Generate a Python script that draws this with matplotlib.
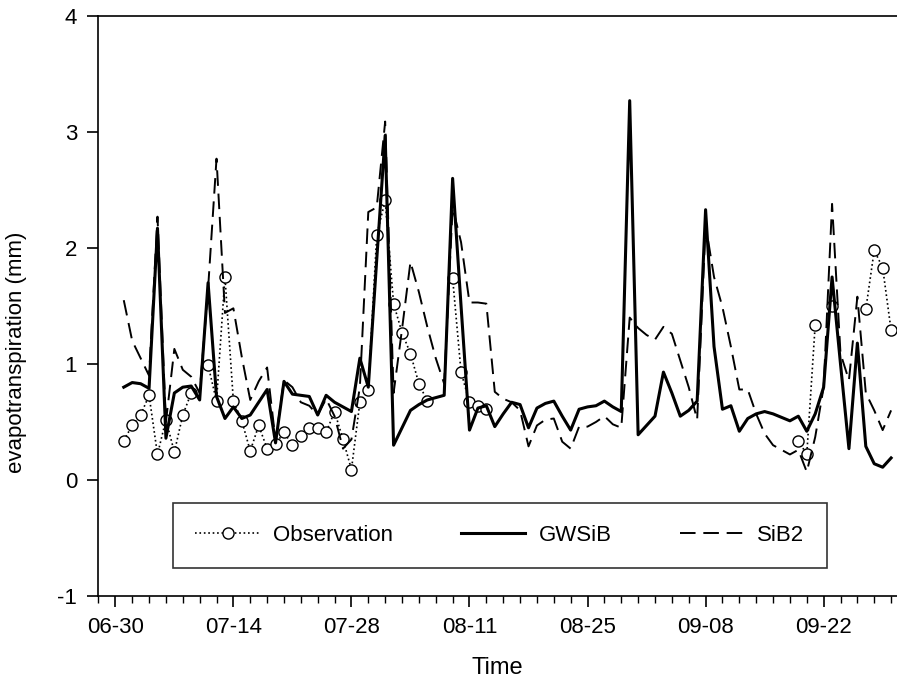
import numpy as np
import pandas as pd
import matplotlib
matplotlib.use("Agg")
import matplotlib.pyplot as plt
import matplotlib.dates as mdates

plt.rcParams['font.family'] = ['Liberation Sans', 'DejaVu Sans']
plt.rcParams['axes.unicode_minus'] = False

# daily values, 07-01 to 09-30
dates = pd.date_range('2000-07-01', periods=92, freq='D')
nan = np.nan

obs = [0.34, 0.47, 0.56, 0.73, 0.22, 0.52, 0.24, 0.56, 0.75, nan,
       0.99, 0.68, 1.75, 0.68, 0.51, 0.25, 0.47, 0.27, 0.31, 0.41,
       0.30, 0.38, 0.45, 0.45, 0.41, 0.59, 0.35, 0.09, 0.67, 0.78,
       2.11, 2.41, 1.52, 1.27, 1.09, 0.83, 0.68, nan, nan, 1.74,
       0.93, 0.67, 0.64, 0.61] + [nan] * 36 + [
       0.34, 0.22, 1.34, nan, 1.50, nan, nan, nan, 1.47, 1.98,
       1.83, 1.29]

gwsib = [0.80, 0.84, 0.83, 0.79, 2.17, 0.36, 0.75, 0.80, 0.81, 0.69,
         1.70, 0.72, 0.53, 0.63, 0.53, 0.56, 0.67, 0.78, 0.32, 0.85,
         0.74, 0.73, 0.72, 0.56, 0.73, 0.67, 0.63, 0.59, 1.05, 0.80,
         1.90, 2.97, 0.30, 0.45, 0.60, 0.65, 0.69, 0.71, 0.73, 2.60,
         1.50, 0.43, 0.62, 0.64, 0.46, 0.57, 0.67, 0.65, 0.45, 0.62,
         0.66, 0.68, 0.55, 0.43, 0.61, 0.63, 0.64, 0.68, 0.63, 0.59,
         3.27, 0.39, 0.47, 0.55, 0.93, 0.75, 0.55, 0.60, 0.68, 2.33,
         1.15, 0.61, 0.64, 0.42, 0.53, 0.57, 0.59, 0.57, 0.54, 0.51,
         0.55, 0.42, 0.57, 0.80, 1.75, 1.00, 0.27, 1.18, 0.29, 0.14,
         0.11, 0.19]

sib2 = [1.55, 1.20, 1.05, 0.90, 2.27, 0.50, 1.13, 0.95, 0.89, 0.75,
        1.65, 2.77, 1.44, 1.48, 1.06, 0.69, 0.85, 0.97, 0.34, 0.86,
        0.80, 0.67, 0.64, 0.56, 0.70, 0.55, 0.27, 0.35, 0.80, 2.31,
        2.35, 3.09, 0.75, 1.30, 1.88, 1.62, 1.32, 1.05, 0.83, 2.35,
        2.05, 1.53, 1.53, 1.52, 0.76, 0.70, 0.67, 0.60, 0.29, 0.47,
        0.52, 0.53, 0.33, 0.27, 0.46, 0.46, 0.50, 0.55, 0.48, 0.45,
        1.40, 1.31, 1.25, 1.21, 1.32, 1.26, 1.03, 0.80, 0.52, 2.20,
        1.75, 1.49, 1.15, 0.78, 0.78, 0.57, 0.40, 0.30, 0.26, 0.22,
        0.26, 0.07, 0.37, 0.80, 2.38, 1.09, 0.86, 1.58, 0.75, 0.60,
        0.43, 0.60]

major_ticks = pd.date_range('2000-06-30', periods=7, freq='14D')
minor_ticks = pd.date_range('2000-06-28', '2000-10-01', freq='2D')

fig = plt.figure(figsize=(8.97, 6.89), dpi=100)
ax = fig.add_axes([0.1093, 0.135, 0.8907, 0.8418])

ax.plot(dates, obs, linestyle=':', color='black', lw=1.2, marker='o', ms=8,
        mfc='white', mec='black', mew=1.0, label='Observation', zorder=2)
ax.plot(dates, gwsib, '-', color='black', lw=2.2, label='GWSiB', zorder=3)
ax.plot(dates, sib2, color='black', lw=1.4, linestyle=(0, (8, 4)), label='SiB2', zorder=4)

ax.set_ylim(-1, 4)
ax.set_yticks([-1, 0, 1, 2, 3, 4])
x0 = mdates.date2num(pd.Timestamp('2000-06-28')) - 0.05
x1 = mdates.date2num(pd.Timestamp('2000-09-30')) + 0.7
ax.set_xlim(x0, x1)
ax.set_xticks(major_ticks)
ax.set_xticks(minor_ticks, minor=True)
ax.xaxis.set_major_formatter(mdates.DateFormatter('%m-%d'))

ax.spines['right'].set_visible(False)
for s in ['left', 'bottom', 'top']:
    ax.spines[s].set_linewidth(1.2)
ax.tick_params(axis='both', which='major', direction='out', length=8, width=1.2,
               labelsize=16, pad=7)
ax.tick_params(axis='x', which='minor', direction='out', length=5, width=1.0)

ax.set_xlabel('Time', fontsize=17, labelpad=14)
ax.set_ylabel('evapotranspiration (mm)', fontsize=16)
ax.yaxis.set_label_coords(-0.089, 0.42)

leg = ax.legend(loc='lower left', bbox_to_anchor=(0.094, 0.048, 0.818, 0.111),
                mode='expand', ncol=3, borderaxespad=0, fontsize=16,
                fancybox=False, handlelength=2.9, handletextpad=0.6,
                borderpad=1.0)
leg.get_frame().set_edgecolor('black')
leg.get_frame().set_linewidth(1.2)

fig.savefig('out.png', dpi=100)
